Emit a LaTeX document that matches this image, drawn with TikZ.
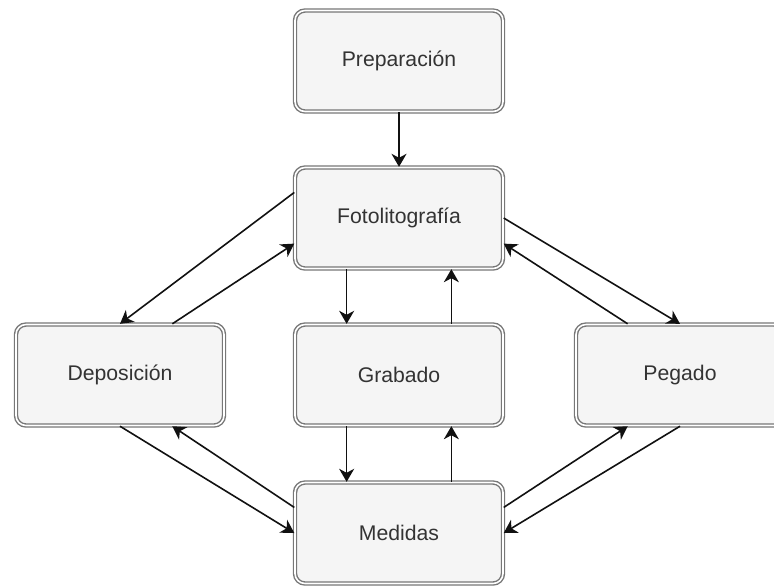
\documentclass[tikz,border=0pt]{standalone}
\usepackage{fontspec}
\setmainfont{Liberation Sans}
\usepackage{tikz}
\usepackage{xcolor}
\usetikzlibrary{arrows.meta,calc}
\definecolor{boxfill}{HTML}{F5F5F5}
\definecolor{boxline}{HTML}{777777}
\definecolor{boxtext}{HTML}{333333}
\definecolor{ink}{HTML}{111111}
\tikzset{
  stagebox/.style={draw=boxline,fill=boxfill,line width=0.7pt,
                   double=white,double distance=0.8pt,
                   rounded corners=5pt,
                   minimum width=104pt,minimum height=50.5pt,
                   inner sep=2pt,align=center,text=boxtext,
                   font=\fontsize{10.6}{12}\selectfont},
  flowarr/.style={-{Stealth[length=6.5pt,width=7.5pt,inset=2pt]},line width=0.8pt,color=ink}
}
\begin{document}
\begin{tikzpicture}[x=0.5pt,y=-0.5pt]
  \clip (0,0) rectangle (774,586);
  \node[stagebox] (prep) at (399,61) {Preparación};
  \node[stagebox] (foto) at (399,218) {Fotolitografía};
  \node[stagebox] (depo) at (120,375) {Deposición};
  \node[stagebox] (grab) at (399,375) {Grabado};
  \node[stagebox] (pega) at (680,375) {Pegado};
  \node[stagebox] (medi) at (399,533) {Medidas};

  \draw[flowarr] (prep.south)--(foto.north);
  % left branch
  \draw[flowarr] ($(foto.north west)!0.25!(foto.south west)$)--(depo.north);
  \draw[flowarr] ($(depo.north west)!0.75!(depo.north east)$)--($(foto.north west)!0.75!(foto.south west)$);
  \draw[flowarr] (depo.south)--(medi.west);
  \draw[flowarr] ($(medi.north west)!0.25!(medi.south west)$)--($(depo.south west)!0.75!(depo.south east)$);
  % middle branch
  \draw[flowarr] ($(foto.south west)!0.25!(foto.south east)$)--($(grab.north west)!0.25!(grab.north east)$);
  \draw[flowarr] ($(grab.north west)!0.75!(grab.north east)$)--($(foto.south west)!0.75!(foto.south east)$);
  \draw[flowarr] ($(grab.south west)!0.25!(grab.south east)$)--($(medi.north west)!0.25!(medi.north east)$);
  \draw[flowarr] ($(medi.north west)!0.75!(medi.north east)$)--($(grab.south west)!0.75!(grab.south east)$);
  % right branch
  \draw[flowarr] (foto.east)--(pega.north);
  \draw[flowarr] ($(pega.north west)!0.25!(pega.north east)$)--($(foto.north east)!0.75!(foto.south east)$);
  \draw[flowarr] (pega.south)--(medi.east);
  \draw[flowarr] ($(medi.north east)!0.25!(medi.south east)$)--($(pega.south west)!0.25!(pega.south east)$);
\end{tikzpicture}
\end{document}
